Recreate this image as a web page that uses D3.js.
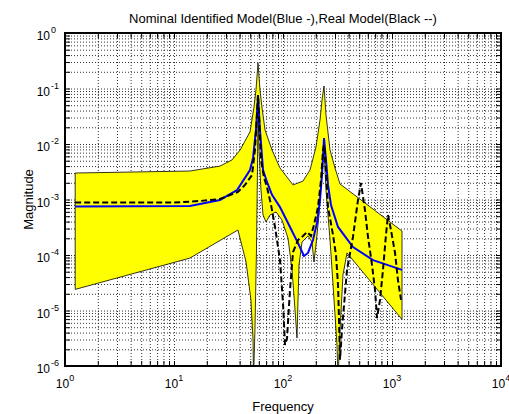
<!DOCTYPE html>
<html><head><meta charset="utf-8">
<script src="https://cdn.jsdelivr.net/npm/d3@7"></script>
<style>body{margin:0;background:#fff}svg{display:block}</style>
</head><body>
<svg id="chart" width="509" height="414"></svg>
<script>
// ---- data ----
const bandUpperFreq = [1.24, 14.0, 26.4, 34.0, 40.4, 49.8, 54.2, 56.5, 59.0, 61.5, 64.1, 68.4, 79.3, 93.8, 123.6, 152.5, 176.9, 200.7, 218.5, 228, 237.8, 248.1, 270, 300, 333.5, 1235];
const bandUpperMag = [3.0e-3, 3.26e-3, 4.0e-3, 5.15e-3, 7.8e-3, 0.0165, 0.0464, 0.094, 0.288, 0.094, 0.0464, 0.0179, 7.8e-3, 3.7e-3, 1.83e-3, 2.15e-3, 3.4e-3, 8.8e-3, 0.0271, 0.062, 0.111, 0.0333, 7.8e-3, 3.7e-3, 1.9e-3, 2.7e-4];
const bandLowerFreq = [1.24, 14.0, 38.6, 45.8, 50.8, 53.1, 53.6, 55.3, 57.1, 58.3, 59.0, 60.2, 62.8, 65.6, 69.8, 76.0, 86.3, 97.9, 111.2, 121.0, 128.9, 134.4, 140.2, 149.4, 169.5, 184.5, 192.4, 200.7, 213.9, 228, 237.8, 248.1, 270, 293.8, 312.9, 319.7, 333.5, 355.1, 386.5, 1235];
const bandLowerMag = [2.4e-5, 8.8e-5, 2.82e-4, 7.5e-5, 1.55e-5, 2.94e-6, 5.6e-7, 4.5e-6, 1.23e-4, 3.4e-3, 0.041, 7.8e-3, 1.48e-3, 5.26e-4, 3.94e-4, 5.26e-4, 5.96e-4, 4.27e-4, 2.0e-4, 5.4e-5, 1.02e-5, 3.2e-6, 6.6e-5, 1.71e-4, 2.2e-4, 1.71e-4, 7.5e-5, 1.51e-4, 5.26e-4, 3.4e-3, 7.8e-3, 1.48e-3, 1.86e-4, 1.55e-5, 2.39e-6, 5.6e-7, 4.5e-6, 4.4e-5, 1.09e-4, 6.9e-6];
const nominalFreq = [1.24, 14.0, 26.4, 37.9, 49.8, 53.1, 56.5, 59.0, 61.5, 65.6, 71.3, 79.3, 93.8, 115.9, 137.3, 155.8, 169.5, 188.4, 205, 218.5, 228, 237.8, 248.1, 258.8, 275.6, 319.7, 438.5, 669.8, 1235];
const nominalMag = [7.5e-4, 7.64e-4, 9.8e-4, 1.48e-3, 3.4e-3, 5.6e-3, 0.0179, 0.0763, 0.0179, 3.4e-3, 2.07e-3, 1.21e-3, 7.3e-4, 3.2e-4, 1.64e-4, 9.6e-5, 1.09e-4, 1.86e-4, 3.78e-4, 9.8e-4, 2.76e-3, 0.0128, 5.15e-3, 1.83e-3, 7.96e-4, 3.2e-4, 1.39e-4, 8.1e-5, 5.4e-5];
const realFreq = [1.24, 9.79, 17.3, 26.4, 38.6, 44.8, 52.0, 55.3, 57.7, 59.0, 60.2, 62.8, 67.0, 71.3, 77.7, 84.5, 93.8, 100, 104.3, 108.9, 115.9, 123.6, 137.3, 152.5, 166, 180.6, 192.4, 209.4, 223.2, 232.8, 237.8, 243, 258.8, 287.6, 306.4, 319.7, 326.5, 333.5, 347.6, 386.5, 438.5, 487.6, 519.5, 564.6, 602.6, 655.9, 698.8, 728.9, 776, 826.7, 880.5, 918.7, 979, 1066, 1135, 1210];
const realMag = [8.8e-4, 8.8e-4, 9.4e-4, 1.02e-3, 1.37e-3, 1.83e-3, 2.76e-3, 7.8e-3, 0.0334, 0.0763, 0.0334, 5.15e-3, 2.45e-3, 1.68e-3, 7.96e-4, 3.2e-4, 8.1e-5, 1.36e-5, 2.39e-6, 3.2e-6, 2.34e-5, 1.13e-4, 1.86e-4, 2.2e-4, 2.6e-4, 2.2e-4, 3.47e-4, 7.3e-4, 2.24e-3, 7.8e-3, 9.6e-3, 6.3e-3, 7.3e-4, 2.3e-4, 1.0e-4, 2.9e-5, 6.9e-6, 1.3e-6, 4.5e-6, 5.4e-5, 2.11e-4, 9.8e-4, 1.98e-3, 6.5e-4, 2.11e-4, 6.6e-5, 2.34e-5, 7.3e-6, 1.55e-5, 5.4e-5, 2.3e-4, 5.26e-4, 2.8e-4, 1.09e-4, 3.5e-5, 1.55e-5];
const xTickExponents = [0, 1, 2, 3, 4];
const yTickExponents = [0, -1, -2, -3, -4, -5, -6];
const titleText = "Nominal Identified Model(Blue -),Real Model(Black --)";
const xLabelText = "Frequency";
const yLabelText = "Magnitude";

// ---- layout ----
const L = 65, R = 501, T = 33, B = 366;
const svg = d3.select("#chart");
const x = d3.scaleLog().domain([1, 1e4]).range([L, R]);
const y = d3.scaleLog().domain([1e-6, 1]).range([B, T]);

const font = "Arial, 'Liberation Sans', Helvetica, sans-serif";

function minorsBetween(loExp, hiExp) {
  const out = [];
  for (let e = loExp; e < hiExp; e++) for (let k = 1; k <= 9; k++) out.push(k * Math.pow(10, e));
  out.push(Math.pow(10, hiExp));
  return out;
}
const xAll = minorsBetween(0, 4);
const yAll = minorsBetween(-6, 0);
const xMaj = xTickExponents.map(e => Math.pow(10, e));
const yMaj = yTickExponents.map(e => Math.pow(10, e));

svg.append("defs").append("clipPath").attr("id", "plotclip")
  .append("rect").attr("x", L).attr("y", T).attr("width", R - L).attr("height", B - T);

// grid (dotted, MATLAB style)
const gridX = svg.append("g").attr("transform", `translate(0,${B})`)
  .call(d3.axisBottom(x).tickValues(xAll.filter(v => v > 1 && v < 1e4)).tickSize(-(B - T)).tickFormat(""));
const gridY = svg.append("g").attr("transform", `translate(${L},0)`)
  .call(d3.axisLeft(y).tickValues(yAll.filter(v => v > 1e-6 && v < 1)).tickSize(-(R - L)).tickFormat(""));
[gridX, gridY].forEach(g => {
  g.select(".domain").remove();
  g.selectAll(".tick line").attr("stroke", "#000").attr("stroke-width", 0.8).attr("stroke-dasharray", "1,2");
});

const plot = svg.append("g").attr("clip-path", "url(#plotclip)");

// uncertainty band
const upper = bandUpperFreq.map((f, i) => [f, bandUpperMag[i]]);
const lower = bandLowerFreq.map((f, i) => [f, bandLowerMag[i]]);
const line = d3.line().x(d => x(d[0])).y(d => y(d[1]));
plot.append("path")
  .attr("d", line(upper.concat(lower.slice().reverse())) + "Z")
  .attr("fill", "#ffff00").attr("stroke", "#000").attr("stroke-width", 0.8).attr("stroke-linejoin", "round");

// nominal model (blue solid)
plot.append("path")
  .attr("d", line(nominalFreq.map((f, i) => [f, nominalMag[i]])))
  .attr("fill", "none").attr("stroke", "#0000ff").attr("stroke-width", 2);

// real model (black dashed)
plot.append("path")
  .attr("d", line(realFreq.map((f, i) => [f, realMag[i]])))
  .attr("fill", "none").attr("stroke", "#000").attr("stroke-width", 2).attr("stroke-dasharray", "6,3");

// tick marks (inward, all four sides)
function tickAxis(axisFn, scale, vals, size, transform) {
  const g = svg.append("g").attr("transform", transform)
    .call(axisFn(scale).tickValues(vals).tickSize(size).tickFormat(""));
  g.select(".domain").remove();
  g.selectAll(".tick line").attr("stroke", "#000").attr("stroke-width", 1);
  return g;
}
tickAxis(d3.axisBottom, x, xAll, -5, `translate(0,${B})`);
tickAxis(d3.axisTop, x, xAll, -5, `translate(0,${T})`);
tickAxis(d3.axisLeft, y, yAll, -5, `translate(${L},0)`);
tickAxis(d3.axisRight, y, yAll, -5, `translate(${R},0)`);

// box
svg.append("rect").attr("x", L).attr("y", T).attr("width", R - L).attr("height", B - T)
  .attr("fill", "none").attr("stroke", "#000").attr("stroke-width", 2);

// x tick labels
xTickExponents.forEach(e => {
  const t = svg.append("text").attr("x", x(Math.pow(10, e))).attr("y", 388)
    .attr("text-anchor", "middle").attr("font-family", font).attr("font-size", 12).attr("fill", "#000");
  t.append("tspan").text("10");
  t.append("tspan").attr("dy", -7).attr("font-size", 9).text(String(e));
});
// y tick labels
yTickExponents.forEach(e => {
  const yy = y(Math.pow(10, e));
  svg.append("text").attr("x", 50).attr("y", yy + 7).attr("text-anchor", "end")
    .attr("font-family", font).attr("font-size", 12).attr("fill", "#000").text("10");
  svg.append("text").attr("x", 51).attr("y", yy).attr("text-anchor", "start")
    .attr("font-family", font).attr("font-size", 9).attr("fill", "#000").text(e === 0 ? "0" : "-" + Math.abs(e));
});

// title and axis labels
svg.append("text").attr("x", (L + R) / 2).attr("y", 23).attr("text-anchor", "middle")
  .attr("font-family", font).attr("font-size", 13).attr("fill", "#000").text(titleText);
svg.append("text").attr("x", (L + R) / 2).attr("y", 411).attr("text-anchor", "middle")
  .attr("font-family", font).attr("font-size", 13).attr("fill", "#000").text(xLabelText);
svg.append("text").attr("transform", `translate(33,${(T + B) / 2}) rotate(-90)`).attr("text-anchor", "middle")
  .attr("font-family", font).attr("font-size", 13).attr("fill", "#000").text(yLabelText);
</script>
</body></html>
